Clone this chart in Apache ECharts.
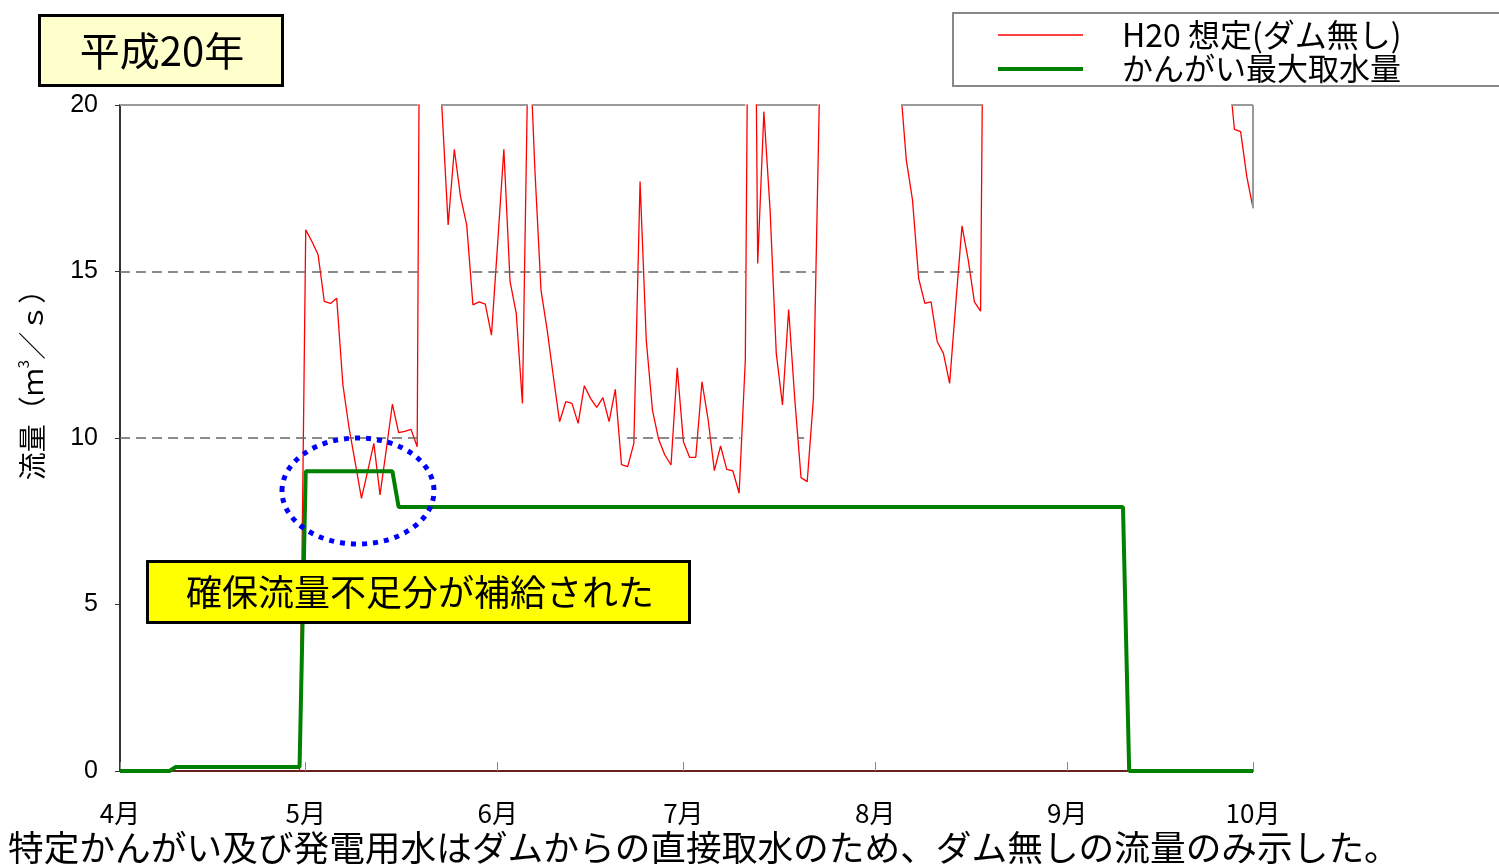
<!DOCTYPE html>
<html><head><meta charset="utf-8">
<script src="https://cdn.jsdelivr.net/npm/echarts@6.0.0/dist/echarts.min.js"></script>
<style>html,body{margin:0;padding:0;background:#fff;} #c{width:1499px;height:865px;}</style>
</head><body><div id="c"></div>
<script>
const FONT = '"Noto Sans CJK JP", "Noto Sans", sans-serif';
const NUMFONT = '"Liberation Sans", Arial, sans-serif';

// x axis: day index, 0 = Apr 1 ... 183 = Oct 1
const monthTicks = [0, 30, 61, 91, 122, 153, 183];
const monthLabels = ['4月', '5月', '6月', '7月', '8月', '9月', '10月'];
const seriesNames = ['H20 想定(ダム無し)', 'かんがい最大取水量'];

// H20 assumed flow without dam (m3/s), daily from day 29 (Apr 30) to day 183 (Oct 1)
const flowStartDay = 29;
const flowNoDam = [
  0,
  16.25, 15.9, 15.5, 14.1, 14.04, 14.2, 11.6, 10.3, 9.25, 8.19,
  9.0, 9.84, 8.29, 9.64, 11.02, 10.16, 10.2, 10.26, 9.74, 45,
  30, 24, 19.9, 16.4, 18.67, 17.25, 16.4, 14.0, 14.09, 14.02,
  13.09, 15.85, 18.67, 14.7, 13.74, 11.04, 22.7, 18.1, 14.44, 13.24,
  11.84, 10.49, 11.09, 11.04, 10.44, 11.57, 11.19, 10.92, 11.21, 10.49,
  11.46, 9.2, 9.14, 9.84, 17.7, 12.94, 10.84, 9.96, 9.49, 9.19,
  12.11, 9.89, 9.42, 9.42, 11.69, 10.54, 9.02, 9.76, 9.06, 9.01,
  8.34, 12.34, 38, 15.24, 19.8, 16.85, 12.54, 10.99, 13.86, 11.14,
  8.81, 8.69, 11.19, 20.6, 28, 35, 42, 31, 26, 33,
  45, 38, 29, 25, 30, 24, 20.7, 18.35, 17.15, 14.79,
  14.04, 14.09, 12.89, 12.54, 11.64, 14.05, 16.37, 15.35, 14.09, 13.81,
  37, 42, 55, 48, 36, 31, 44, 58, 62, 47,
  39, 33, 29, 35, 41, 52, 46, 38, 32, 28,
  26, 31, 37, 44, 39, 34, 29, 27, 33, 40,
  36, 30, 27, 25, 29, 26, 24, 23, 22.5, 21.2,
  19.27, 19.2, 17.85, 16.9
];

// irrigation max intake: vertices of the step line [day, m3/s]
const irrigationMax = [
  [0, 0], [8, 0], [9, 0.12], [29, 0.12], [30, 9.0], [44, 9.0],
  [45, 7.93], [162, 7.93], [163, 0], [183, 0]
];

// visible parts of the reference lines (day ranges)
const grid10Segments = [[0, 48.1], [81.9, 100.2], [109.4, 110.5]];
const grid15Segments = [[0, 48.1], [56.9, 101.0], [106.6, 112.3], [128.9, 137.8]];
const topSegments = [[0, 48.1], [51.9, 65.9], [66.6, 101.0], [102.9, 112.7], [126.3, 139.3], [179.6, 183]];

const flowData = flowNoDam.map((v, i) => [flowStartDay + i, v]);

const dashStyle = { color: '#666', width: 1.5, type: [10, 6] };
const borderStyle = { color: '#9a9a9a', width: 2, type: 'solid' };
function segs(list, value, style) {
  return list.map(s => [{ coord: [s[0], value], lineStyle: style }, { coord: [s[1], value] }]);
}
const lastDay = flowStartDay + flowNoDam.length - 1;
const markData = [].concat(
  segs(grid10Segments, 10, dashStyle),
  segs(grid15Segments, 15, dashStyle),
  segs(topSegments, 20, borderStyle),
  [[{ coord: [lastDay, flowNoDam[flowNoDam.length - 1]], lineStyle: borderStyle }, { coord: [lastDay, 20] }]]
);

const chart = echarts.init(document.getElementById('c'));
chart.setOption({
  animation: false,
  backgroundColor: '#fff',
  textStyle: { fontFamily: FONT },
  grid: { left: 120, right: 246, top: 105, bottom: 94 },
  xAxis: {
    type: 'value', min: 0, max: 183,
    axisLine: { lineStyle: { color: '#6b2020', width: 2 } },
    axisTick: { show: true, inside: true, length: 9, customValues: monthTicks, lineStyle: { color: '#888', width: 1 } },
    axisLabel: {
      customValues: monthTicks,
      formatter: v => monthLabels[monthTicks.indexOf(v)],
      fontSize: 26, color: '#000', margin: 29, fontFamily: FONT
    },
    splitLine: { show: false }
  },
  yAxis: {
    type: 'value', min: 0, max: 20, interval: 5,
    axisLine: { show: true, lineStyle: { color: '#333', width: 2 } },
    axisTick: { show: true, length: 5, lineStyle: { color: '#333' } },
    axisLabel: { fontSize: 25, color: '#000', margin: 22, fontFamily: NUMFONT, lineHeight: 36, verticalAlign: 'middle', padding: [6, 0, 0, 0] },
    splitLine: { show: false }
  },
  series: [
    {
      type: 'line', name: '_ref', data: [], silent: true, clip: false, z: 1,
      markLine: { silent: true, symbol: ['none', 'none'], label: { show: false }, animation: false, data: markData }
    },
    {
      type: 'line', name: seriesNames[0], data: flowData, showSymbol: false, symbol: 'none',
      lineStyle: { color: '#ff0000', width: 1.3 }, itemStyle: { color: '#ff0000' }, z: 3
    },
    {
      type: 'line', name: seriesNames[1], data: irrigationMax, showSymbol: false, symbol: 'none',
      lineStyle: { color: '#008000', width: 4 }, itemStyle: { color: '#008000' }, z: 4
    }
  ],
  graphic: [
    { type: 'rect', z: 100, shape: { x: 39.5, y: 15.5, width: 243, height: 70 }, style: { fill: '#ffffcc', stroke: '#000', lineWidth: 3 } },
    { type: 'text', z: 101, x: 162, y: 51, style: { text: '平成20年', fontSize: 40, fontFamily: FONT, fill: '#000', textAlign: 'center', textVerticalAlign: 'middle' } },
    { type: 'rect', z: 100, shape: { x: 147.5, y: 561.5, width: 542, height: 61 }, style: { fill: '#ffff00', stroke: '#000', lineWidth: 3 } },
    { type: 'text', z: 101, x: 420, y: 592, style: { text: '確保流量不足分が補給された', fontSize: 36, fontFamily: FONT, fill: '#000', textAlign: 'center', textVerticalAlign: 'middle' } },
    { type: 'ellipse', z: 100, shape: { cx: 358, cy: 491, rx: 76, ry: 53 }, style: { fill: 'none', stroke: '#0000ff', lineWidth: 5, lineDash: [5, 6] } },
    { type: 'rect', z: 100, shape: { x: 953, y: 13, width: 560, height: 73 }, style: { fill: '#fff', stroke: '#888', lineWidth: 2 } },
    { type: 'line', z: 101, shape: { x1: 998, y1: 35, x2: 1083, y2: 35 }, style: { stroke: '#ff0000', lineWidth: 1.5 } },
    { type: 'line', z: 101, shape: { x1: 998, y1: 69, x2: 1083, y2: 69 }, style: { stroke: '#008000', lineWidth: 4 } },
    { type: 'text', z: 101, x: 1122, y: 35, style: { text: seriesNames[0], fontSize: 32, fontFamily: FONT, fill: '#000', textAlign: 'left', textVerticalAlign: 'middle' } },
    { type: 'text', z: 101, x: 1122, y: 68, style: { text: seriesNames[1], fontSize: 31, fontFamily: FONT, fill: '#000', textAlign: 'left', textVerticalAlign: 'middle' } },
    { type: 'text', z: 101, x: 32, y: 378, rotation: Math.PI / 2, style: {
        text: '{a|流量（ｍ}{s|3}{a|／ｓ）}', textAlign: 'center', textVerticalAlign: 'middle', fill: '#000',
        rich: { a: { fontSize: 28, fontFamily: FONT, lineHeight: 32 }, s: { fontSize: 15, fontFamily: FONT, lineHeight: 32, verticalAlign: 'top' } }
      } },
    { type: 'text', z: 101, x: 8, y: 847, style: { text: '特定かんがい及び発電用水はダムからの直接取水のため、ダム無しの流量のみ示した。', fontSize: 35.7, fontFamily: FONT, fill: '#000', textAlign: 'left', textVerticalAlign: 'middle' } }
  ]
});
</script>
</body></html>
